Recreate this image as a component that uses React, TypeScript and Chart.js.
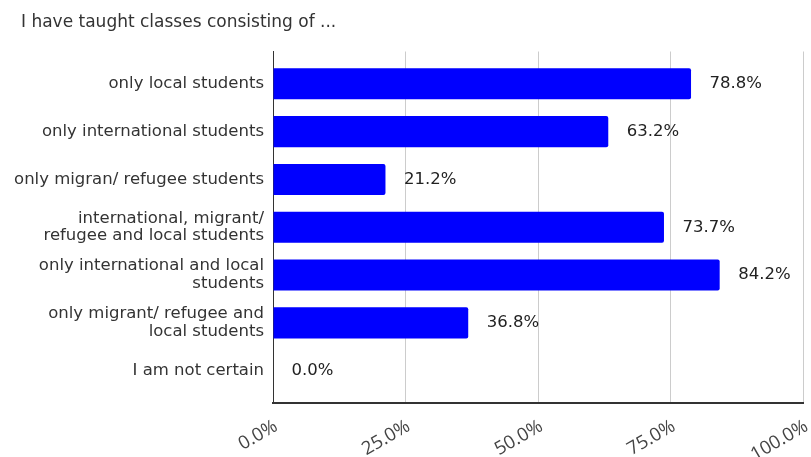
import React, { useEffect, useRef } from "react";
import { Chart, registerables } from "chart.js";

Chart.register(...registerables);

const title = "I have taught classes consisting of ...";
const categories: (string | string[])[] = [
  "only local students",
  "only international students",
  "only migran/ refugee students",
  ["international, migrant/", "refugee and local students"],
  ["only international and local", "students"],
  ["only migrant/ refugee and", "local students"],
  "I am not certain",
];
const values = [78.8, 63.2, 21.2, 73.7, 84.2, 36.8, 0.0];
const xTicks = [0, 25, 50, 75, 100];

const LABEL_FONT = { family: "'DejaVu Sans', sans-serif", size: 16.5 };
const Y_MIN = -0.675;
const Y_MAX = 6.675;
const PAD_LEFT = 2;

const valueLabels = {
  id: "valueLabels",
  afterLayout(chart: any) {
    if (chart.titleBlock) {
      chart.titleBlock.left = 21;
    }
  },
  afterDatasetsDraw(chart: any) {
    const ctx = chart.ctx;
    const meta = chart.getDatasetMeta(0);
    ctx.save();
    ctx.font = `${LABEL_FONT.size}px ${LABEL_FONT.family}`;
    ctx.fillStyle = "#222222";
    ctx.textAlign = "left";
    ctx.textBaseline = "middle";
    meta.data.forEach((bar: any, i: number) => {
      ctx.fillText(values[i].toFixed(1) + "%", bar.x + 18.5, bar.y);
    });
    ctx.restore();
  },
};

export default function App() {
  const ref = useRef<HTMLCanvasElement | null>(null);
  useEffect(() => {
    if (!ref.current) return;
    const chart = new Chart(ref.current, {
      type: "bar",
      data: {
        datasets: [
          {
            data: values.map((v, i) => ({ x: v, y: i })),
            backgroundColor: "#0000ff",
            borderWidth: 0,
            borderRadius: 2,
            categoryPercentage: 1,
            barPercentage: 0.65,
          },
        ],
      },
      options: {
        indexAxis: "y",
        animation: false,
        responsive: false,
        layout: { padding: { left: PAD_LEFT, right: 7.5, top: 0, bottom: 0 } },
        plugins: {
          legend: { display: false },
          tooltip: { enabled: false },
          title: {
            display: true,
            text: title,
            align: "start",
            color: "#333333",
            font: { family: LABEL_FONT.family, size: 17, weight: "normal" },
            padding: { top: 12, bottom: 19.1 },
          },
        },
        scales: {
          y: {
            type: "linear",
            min: Y_MIN,
            max: Y_MAX,
            offset: false,
            reverse: true,
            afterBuildTicks: (scale: any) => {
              scale.ticks = categories.map((_, i) => ({ value: i }));
              scale.min = Y_MIN;
              scale.max = Y_MAX;
            },
            afterFit: (scale: any) => {
              scale.width = 273 - PAD_LEFT;
              scale.paddingTop = 0;
              scale.paddingBottom = 0;
            },
            ticks: {
              callback: (v: any) => categories[v as number],
              color: "#333333",
              font: { ...LABEL_FONT, lineHeight: 1.08 },
              padding: 9,
            },
            grid: { display: false, drawTicks: false },
            border: { display: true, color: "#333333", width: 1 },
          },
          x: {
            type: "linear",
            min: 0,
            max: 100,
            afterBuildTicks: (scale: any) => {
              scale.ticks = xTicks.map((v) => ({ value: v }));
            },
            afterFit: (scale: any) => {
              scale.height = 54;
              scale.paddingRight = 0;
              scale.paddingLeft = 0;
            },
            ticks: {
              callback: (v: any) => Number(v).toFixed(1) + "%",
              maxRotation: 30,
              minRotation: 30,
              color: "#444444",
              font: { family: "'Open Sans', sans-serif", size: 18.5 },
              padding: 12.5,
              labelOffset: 3,
            },
            grid: { color: "#cccccc", lineWidth: 1, drawTicks: false },
            border: { display: true, color: "#333333", width: 2 },
          },
        },
      },
      plugins: [valueLabels],
    });
    return () => chart.destroy();
  }, []);
  return (
    <canvas
      ref={ref}
      width={811}
      height={457}
      style={{ position: "absolute", left: 0, top: 0, display: "block" }}
    />
  );
}
